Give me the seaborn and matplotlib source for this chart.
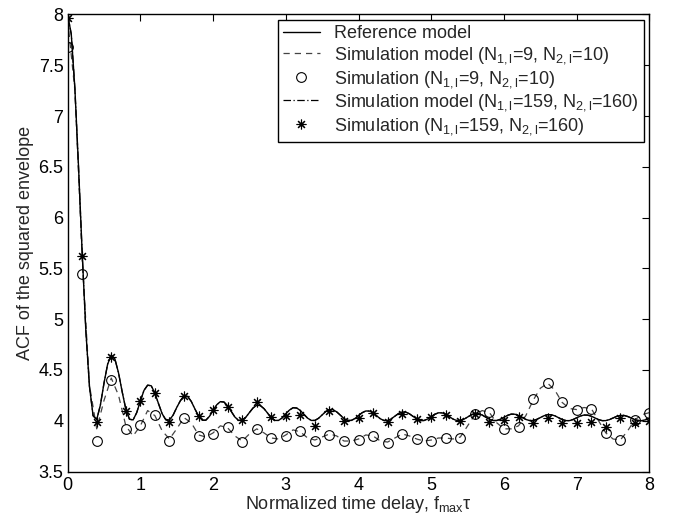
import numpy as np
import pandas as pd
import matplotlib
matplotlib.use("Agg")
import matplotlib.pyplot as plt
import seaborn as sns
from matplotlib.ticker import FormatStrFormatter, MultipleLocator

# ---------------- data ----------------
# Reference model, sampled every 0.05 of f_max*tau (0 ... 8)
tau_ref = [round(0.05 * i, 2) for i in range(161)]
ref_model = [
    8.000, 7.806, 7.267, 6.496, 5.651, 4.891, 4.338, 4.049, 4.012, 4.153,
    4.370, 4.557, 4.646, 4.608, 4.470, 4.285, 4.114, 4.015, 4.008, 4.080,
    4.194, 4.299, 4.350, 4.344, 4.271, 4.167, 4.068, 4.009, 4.007, 4.055,
    4.130, 4.197, 4.245, 4.240, 4.190, 4.116, 4.046, 4.005, 4.005, 4.043,
    4.101, 4.157, 4.188, 4.184, 4.146, 4.090, 4.036, 4.004, 4.004, 4.034,
    4.081, 4.126, 4.152, 4.149, 4.119, 4.074, 4.030, 4.003, 4.003, 4.028,
    4.068, 4.105, 4.128, 4.125, 4.101, 4.062, 4.025, 4.003, 4.003, 4.024,
    4.058, 4.091, 4.110, 4.108, 4.087, 4.054, 4.022, 4.003, 4.003, 4.021,
    4.051, 4.079, 4.096, 4.095, 4.077, 4.048, 4.019, 4.002, 4.002, 4.019,
    4.045, 4.071, 4.086, 4.085, 4.068, 4.043, 4.017, 4.002, 4.002, 4.017,
    4.041, 4.064, 4.078, 4.077, 4.062, 4.039, 4.016, 4.002, 4.002, 4.015,
    4.037, 4.058, 4.071, 4.070, 4.056, 4.035, 4.014, 4.002, 4.002, 4.014,
    4.034, 4.053, 4.065, 4.064, 4.052, 4.032, 4.013, 4.002, 4.002, 4.013,
    4.031, 4.049, 4.060, 4.059, 4.048, 4.030, 4.012, 4.001, 4.001, 4.012,
    4.029, 4.046, 4.056, 4.055, 4.045, 4.028, 4.011, 4.001, 4.001, 4.011,
    4.027, 4.043, 4.052, 4.052, 4.042, 4.026, 4.011, 4.001, 4.001, 4.010,
    4.025,
]
# Simulation model N1=159, N2=160 (coincides with the reference model)
model_159 = list(ref_model)

# Simulation model N1=9, N2=10, sampled every 0.1
tau_m9 = [round(0.1 * i, 1) for i in range(81)]
model_9 = [
    7.95, 7.25, 5.60, 4.35, 3.92, 4.20, 4.42, 4.25, 3.95, 3.85,
    3.95, 4.10, 4.05, 3.90, 3.82, 3.92, 4.03, 3.98, 3.86, 3.84,
    3.88, 3.95, 3.93, 3.85, 3.80, 3.87, 3.92, 3.88, 3.83, 3.82,
    3.86, 3.91, 3.89, 3.83, 3.81, 3.84, 3.87, 3.85, 3.80, 3.80,
    3.82, 3.86, 3.85, 3.80, 3.79, 3.83, 3.87, 3.85, 3.82, 3.80,
    3.81, 3.83, 3.83, 3.82, 3.84, 3.95, 4.06, 4.10, 4.08, 3.98,
    3.92, 3.92, 3.95, 4.05, 4.20, 4.32, 4.37, 4.30, 4.18, 4.12,
    4.11, 4.13, 4.12, 4.00, 3.88, 3.82, 3.81, 3.90, 4.01, 4.06,
    4.08,
]

# Simulation points, every 0.2
tau_sim = [round(0.2 * i, 1) for i in range(41)]
sim_9 = [
    7.68, 5.44, 3.80, 4.40, 3.92, 3.96, 4.06, 3.80, 4.03, 3.85,
    3.87, 3.94, 3.79, 3.92, 3.83, 3.85, 3.90, 3.80, 3.86, 3.80,
    3.81, 3.85, 3.78, 3.87, 3.82, 3.805, 3.83, 3.83, 4.07, 4.09,
    3.92, 3.94, 4.21, 4.37, 4.18, 4.11, 4.12, 3.88, 3.81, 4.01,
    4.08,
]
sim_159 = [
    7.97, 5.62, 3.99, 4.63, 4.10, 4.19, 4.27, 3.99, 4.24, 4.05,
    4.11, 4.14, 4.01, 4.18, 4.04, 4.05, 4.06, 3.95, 4.10, 4.00,
    4.03, 4.08, 3.99, 4.07, 4.02, 4.04, 4.06, 4.00, 4.07, 3.99,
    4.01, 4.04, 3.98, 4.03, 3.98, 3.98, 3.99, 3.94, 4.03, 3.98,
    4.00,
]

labels = [
    "Reference model",
    r"Simulation model (N$_{\rm 1,l}$=9, N$_{\rm 2,l}$=10)",
    r"Simulation (N$_{\rm 1,l}$=9, N$_{\rm 2,l}$=10)",
    r"Simulation model (N$_{\rm 1,l}$=159, N$_{\rm 2,l}$=160)",
    r"Simulation (N$_{\rm 1,l}$=159, N$_{\rm 2,l}$=160)",
]

# ---------------- style ----------------
sns.set_style("white")
plt.rcParams["font.family"] = ["Liberation Sans", "DejaVu Sans"]
plt.rcParams["mathtext.fontset"] = "custom"
plt.rcParams["mathtext.rm"] = "Liberation Sans"
plt.rcParams["mathtext.it"] = "Liberation Sans:italic"
plt.rcParams["mathtext.bf"] = "Liberation Sans:bold"

FS = 13

fig = plt.figure(figsize=(6.73, 5.21), dpi=100)
ax = fig.add_axes([0.1005, 0.095, 0.8645, 0.8772])

df_ref = pd.DataFrame({"tau": tau_ref, "ref": ref_model, "m159": model_159})
df_m9 = pd.DataFrame({"tau": tau_m9, "m9": model_9})
df_sim = pd.DataFrame({"tau": tau_sim, "s9": sim_9, "s159": sim_159})

sns.lineplot(data=df_ref, x="tau", y="m159", ax=ax, color="black", lw=0.9,
             linestyle=(0, (6, 2, 1, 2)), label=labels[3], zorder=2)
sns.lineplot(data=df_m9, x="tau", y="m9", ax=ax, color="#444444", lw=0.9,
             linestyle=(0, (5, 4)), label=labels[1], zorder=2)
sns.lineplot(data=df_ref, x="tau", y="ref", ax=ax, color="black", lw=1.0,
             label=labels[0], zorder=3)
sns.lineplot(data=df_sim, x="tau", y="s9", ax=ax, color="black", linestyle="none",
             marker="o", markersize=7, markerfacecolor="none",
             markeredgecolor="black", markeredgewidth=0.8, label=labels[2], zorder=4)
sns.lineplot(data=df_sim, x="tau", y="s159", ax=ax, color="black", linestyle="none",
             marker=(8, 2, 0), markersize=7, markeredgecolor="black",
             markeredgewidth=0.8, label=labels[4], zorder=5)

ax.set_xlim(0, 8)
ax.set_ylim(3.5, 8)
ax.xaxis.set_major_locator(MultipleLocator(1))
ax.yaxis.set_major_locator(MultipleLocator(0.5))
ax.xaxis.set_major_formatter(FormatStrFormatter("%g"))
ax.yaxis.set_major_formatter(FormatStrFormatter("%g"))
ax.tick_params(direction="in", length=5, width=0.8, top=True, right=True,
               labelsize=FS, colors="black")
ax.tick_params(axis="x", pad=4)
ax.tick_params(axis="y", pad=3)
for s in ax.spines.values():
    s.set_visible(True)
    s.set_color("black")
    s.set_linewidth(1.0)

ax.set_xlabel(r"Normalized time delay, f$_{\rm max}$τ", fontsize=FS, labelpad=0)
ax.set_ylabel("ACF of the squared envelope", fontsize=FS, labelpad=3)

handles, labs = ax.get_legend_handles_labels()
order = [labs.index(l) for l in labels]
leg = ax.legend([handles[i] for i in order], [labs[i] for i in order],
                loc="upper right", bbox_to_anchor=(0.991, 0.988),
                borderaxespad=0, fancybox=False, framealpha=1,
                edgecolor="black", fontsize=FS, handlelength=2.0,
                handletextpad=0.8, labelspacing=0.15, borderpad=0.3)
leg.get_frame().set_linewidth(1.0)

fig.savefig("out.png", dpi=100)
